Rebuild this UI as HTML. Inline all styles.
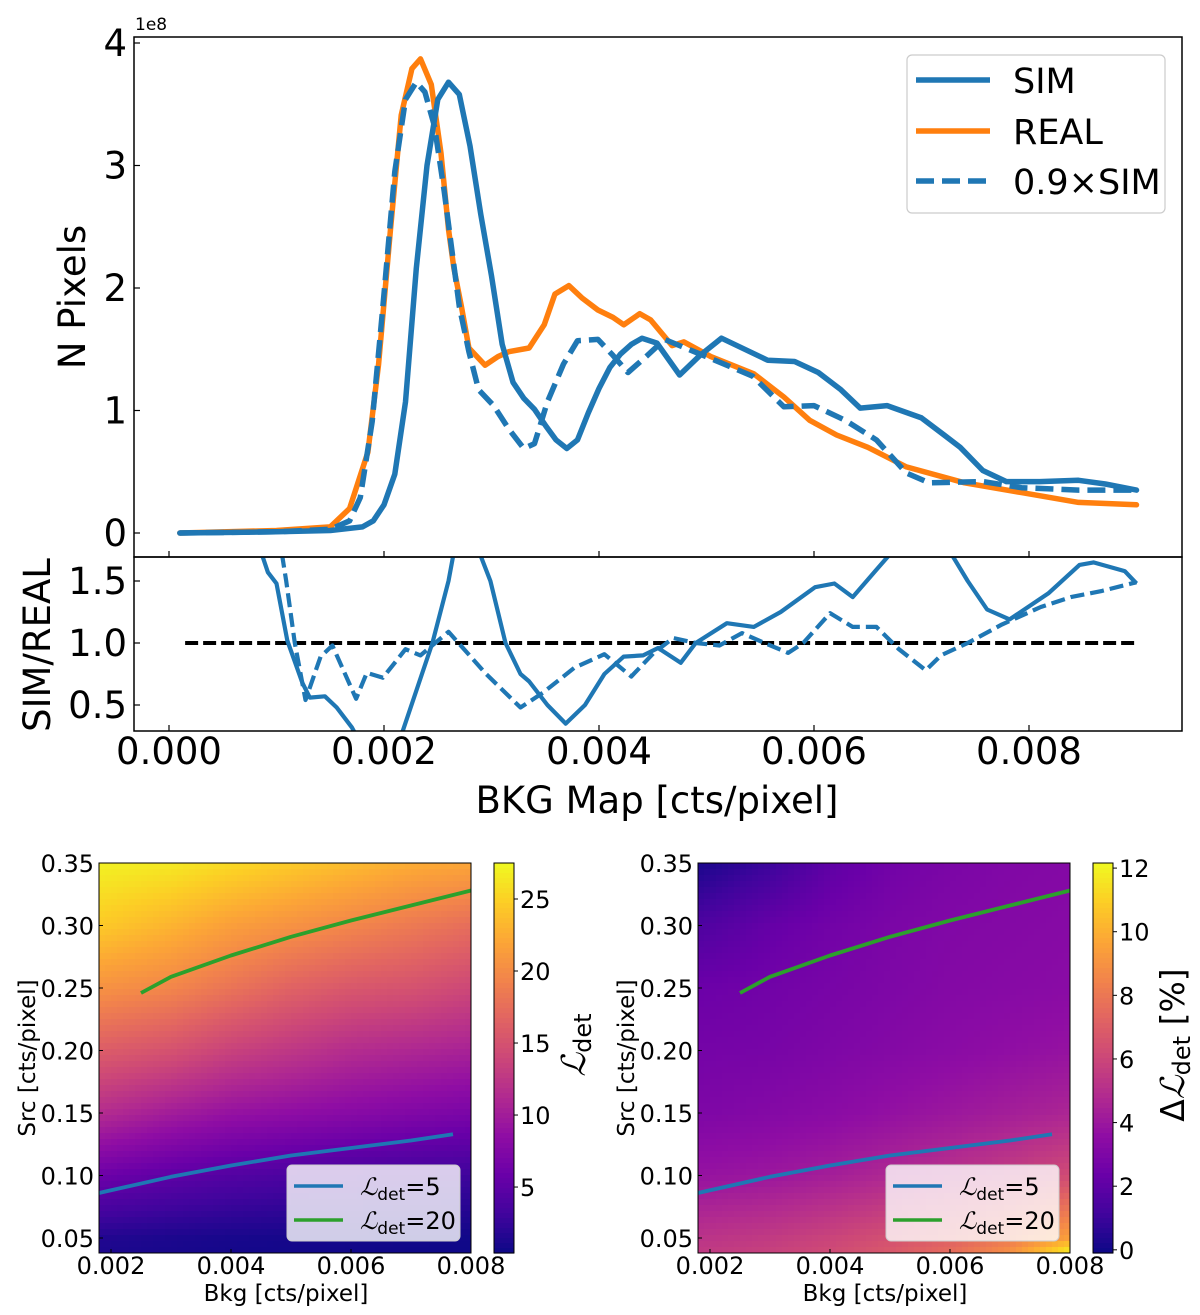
<!DOCTYPE html>
<html><head><meta charset="utf-8">
<style>
html,body{margin:0;padding:0;background:#fff;}
svg{display:block;font-family:"DejaVu Sans","Liberation Sans",sans-serif;}
</style></head>
<body>
<svg id="fig" width="1200" height="1315" viewBox="0 0 1200 1315" xmlns="http://www.w3.org/2000/svg">
<defs>
<clipPath id="clipTop"><rect x="134" y="37" width="1048" height="520"/></clipPath>
<clipPath id="clipRatio"><rect x="134" y="557" width="1048" height="174"/></clipPath>
<clipPath id="clipH1"><rect x="99" y="863" width="372" height="390"/></clipPath>
<clipPath id="clipH2"><rect x="698" y="863" width="372" height="390"/></clipPath>
</defs>
<g id="topPanel"></g>
<g id="ratioPanel"></g>
<g id="h1"></g>
<g id="h2"></g>
</svg>
<script>
// ---------- data: top histogram (values in 1e8) ----------
const simX=[0.0001,0.001,0.0015,0.0018,0.0019,0.002,0.0021,0.0022,0.0023,0.0024,0.0025,0.0026,0.0027,0.0028,0.0029,0.003,0.0031,0.0032,0.0033,0.0034,0.0035,0.0036,0.0037,0.0038,0.0039,0.004,0.0041,0.0042,0.0043,0.0044,0.00454,0.00475,0.00494,0.00514,0.00557,0.00582,0.00604,0.00625,0.00643,0.00668,0.007,0.00721,0.00736,0.00757,0.00779,0.0081,0.00846,0.00871,0.009];
const simY=[0,0.01,0.02,0.05,0.1,0.23,0.48,1.07,2.16,3.0,3.54,3.68,3.58,3.16,2.6,2.1,1.54,1.23,1.1,1.01,0.88,0.76,0.69,0.76,0.98,1.18,1.35,1.46,1.54,1.59,1.55,1.29,1.45,1.59,1.41,1.40,1.31,1.17,1.02,1.04,0.94,0.8,0.7,0.51,0.42,0.42,0.43,0.4,0.35];
const realX=[0.0001,0.001,0.0015,0.00168,0.00185,0.00195,0.00206,0.00216,0.00226,0.00234,0.00244,0.00253,0.0026,0.00265,0.00272,0.00279,0.00294,0.00306,0.00316,0.00335,0.00349,0.00359,0.00372,0.00384,0.00399,0.00413,0.00423,0.00438,0.00448,0.00468,0.00479,0.00504,0.00544,0.00572,0.00596,0.00621,0.0065,0.00686,0.0074,0.00793,0.00846,0.009];
const realY=[0,0.02,0.05,0.2,0.66,1.38,2.48,3.41,3.79,3.87,3.66,3.1,2.48,2.16,1.85,1.51,1.37,1.44,1.48,1.51,1.7,1.95,2.02,1.92,1.82,1.76,1.70,1.79,1.74,1.53,1.56,1.44,1.30,1.11,0.92,0.8,0.7,0.54,0.41,0.33,0.25,0.23];
const dashX=[0.0001,0.001,0.0015,0.00168,0.00178,0.00189,0.00199,0.0021,0.0022,0.0023,0.00238,0.00247,0.00256,0.00263,0.0027,0.00279,0.00288,0.00302,0.00316,0.0033,0.0034,0.00352,0.00367,0.0038,0.00399,0.00413,0.00427,0.00445,0.00461,0.00508,0.00543,0.00572,0.006,0.00629,0.00658,0.00686,0.00707,0.00757,0.00793,0.00846,0.009];
const dashY=[0,0.01,0.03,0.1,0.29,0.91,1.85,2.95,3.54,3.68,3.6,3.32,2.79,2.32,1.85,1.48,1.17,1.04,0.85,0.69,0.73,1.07,1.38,1.57,1.58,1.45,1.31,1.45,1.58,1.41,1.28,1.03,1.04,0.92,0.76,0.49,0.41,0.42,0.37,0.35,0.35];
// ---------- data: ratio panel ----------
const rSimX=[0.00085,0.00092,0.001,0.0011,0.00124,0.00131,0.00145,0.00156,0.0017,0.0019,0.00205,0.00217,0.00245,0.0026,0.00275,0.0029,0.00299,0.00313,0.00327,0.00335,0.00352,0.00369,0.00387,0.00405,0.00423,0.00441,0.00455,0.00476,0.0049,0.00519,0.00544,0.00569,0.00601,0.00619,0.00636,0.00658,0.00669,0.007,0.00729,0.00743,0.00761,0.00782,0.00818,0.00847,0.0086,0.00889,0.009];
const rSimY=[1.75,1.57,1.48,1.02,0.68,0.56,0.57,0.48,0.32,0.0,-0.1,0.28,1.0,1.5,2.2,1.7,1.5,1.0,0.75,0.69,0.5,0.35,0.5,0.75,0.89,0.9,0.96,0.84,1.0,1.16,1.13,1.25,1.45,1.48,1.37,1.59,1.7,2.0,1.7,1.5,1.27,1.19,1.4,1.63,1.65,1.58,1.48];
const rDashX=[0.00105,0.00109,0.00117,0.00127,0.00141,0.00152,0.00174,0.00184,0.00199,0.0022,0.00234,0.0026,0.00295,0.00327,0.00348,0.00377,0.00405,0.0043,0.00451,0.00469,0.0049,0.00512,0.00533,0.00554,0.00576,0.0059,0.00615,0.00636,0.00658,0.00679,0.00704,0.00718,0.00743,0.00775,0.00811,0.00839,0.00868,0.009];
const rDashY=[1.72,1.5,1.0,0.54,0.89,0.98,0.55,0.76,0.72,0.95,0.9,1.09,0.75,0.48,0.6,0.8,0.91,0.73,0.92,1.04,1.0,0.98,1.08,1.0,0.92,1.0,1.24,1.13,1.13,0.95,0.78,0.9,1.0,1.15,1.29,1.37,1.42,1.49];
const xTicks=[0,0.002,0.004,0.006,0.008];
const xTickLabels=["0.000","0.002","0.004","0.006","0.008"];
const yTicks=[0,1,2,3,4];
const rTicks=[0.5,1.0,1.5];
const rTickLabels=["0.5","1.0","1.5"];
// ---------- data: heatmaps ----------
const hB=[0.0018,0.003,0.004,0.005,0.006,0.007,0.008];
const hS=[0.35,0.30,0.25,0.20,0.15,0.10,0.05,0.038];
const lRow035=[27,26.5,25.5,24.5,23.5,22.5,22];
const lRow030=[24.5,23,21.5,20.5,19.5,18.5,17.5];
const lRow025=[20.5,19.5,18,16.5,15.5,15,14];
const lRow020=[16,15,13.5,12.5,11.5,11,10.5];
const lRow015=[11.5,10,9,8.5,8,7.5,7];
const lRow010=[6,5,4.3,3.8,3.5,3.2,3];
const lRow005=[1.5,1.2,1,0.9,0.8,0.7,0.6];
const lRow004=[1.2,1.0,0.8,0.7,0.6,0.5,0.5];
const dRow035=[0.2,1.0,2.0,2.6,2.9,3.1,3.2];
const dRow030=[1.5,2.2,2.6,2.9,3.1,3.2,3.3];
const dRow025=[2.4,2.6,2.8,3.0,3.2,3.3,3.4];
const dRow020=[2.7,2.8,3.0,3.2,3.4,3.6,3.8];
const dRow015=[3.0,3.2,3.4,3.7,4.0,4.3,4.6];
const dRow010=[3.8,4.0,4.3,4.7,5.1,5.6,6.2];
const dRow005=[5.2,5.5,5.9,6.4,7.1,8.0,9.5];
const dRow004=[5.5,5.8,6.2,6.8,7.6,9.0,12];
const greenB=[0.0025,0.003,0.004,0.005,0.006,0.007,0.008];
const greenS=[0.246,0.259,0.276,0.291,0.304,0.316,0.328];
const blueB=[0.0018,0.003,0.004,0.005,0.006,0.007,0.0077];
const blueS=[0.086,0.099,0.108,0.116,0.122,0.128,0.133];
const hxTicks=[0.002,0.004,0.006,0.008];
const hxTickLabels=["0.002","0.004","0.006","0.008"];
const hyTicks=[0.05,0.10,0.15,0.20,0.25,0.30,0.35];
const hyTickLabels=["0.05","0.10","0.15","0.20","0.25","0.30","0.35"];
const cb1Ticks=[5,10,15,20,25];
const cb2Ticks=[0,2,4,6,8,10,12];

const NS="http://www.w3.org/2000/svg";
function mk(parent,tag,attrs,text){const el=document.createElementNS(NS,tag);for(const k in attrs)el.setAttribute(k,attrs[k]);if(text!==undefined)el.textContent=text;parent.appendChild(el);return el;}
const X=v=>169+v/0.002*215;
const Y=v=>533-v*122.5;
const YR=v=>643-(v-1)*124;
const path=(xs,ys,fx,fy)=>xs.map((x,i)=>(i?'L':'M')+fx(x).toFixed(1)+' '+fy(ys[i]).toFixed(1)).join(' ');
const BLUE="#1f77b4",ORANGE="#ff7f0e",GREEN="#2ca02c";
let e;

// ---- top panel ----
const topG=document.getElementById('topPanel');
const tg=mk(topG,'g',{'clip-path':'url(#clipTop)'});
e=mk(tg,'path',{d:path(realX,realY,X,Y),fill:'none',stroke:ORANGE,'stroke-width':5.5,'stroke-linejoin':'round','stroke-linecap':'round'});


e=mk(tg,'path',{d:path(simX,simY,X,Y),fill:'none',stroke:BLUE,'stroke-width':5.5,'stroke-linejoin':'round','stroke-linecap':'round'});


e=mk(tg,'path',{d:path(dashX,dashY,X,Y),fill:'none',stroke:BLUE,'stroke-width':5.5,'stroke-linejoin':'round','stroke-dasharray':'18 8'});


e=mk(topG,'rect',{x:134,y:37,width:1048,height:520,fill:'none',stroke:'#000','stroke-width':1.5});


yTicks.forEach(t=>{
  mk(topG,'line',{x1:134,x2:140,y1:Y(t),y2:Y(t),stroke:'#000','stroke-width':1.2});
  e=mk(topG,'text',{x:127,y:Y(t)+13,'font-size':37,'text-anchor':'end'},String(t));
  
  
});
xTicks.forEach(t=>{mk(topG,'line',{x1:X(t),x2:X(t),y1:557,y2:551,stroke:'#000','stroke-width':1.2});});
e=mk(topG,'text',{x:135,y:30,'font-size':17},'1e8');


e=mk(topG,'text',{x:0,y:0,'font-size':37,'text-anchor':'middle',transform:'translate(85,297) rotate(-90)'},'N Pixels');


const lg=mk(topG,'g',{});


mk(lg,'rect',{x:907,y:55,width:258,height:158,rx:5,fill:'#fff',stroke:'#ccc','stroke-width':1.2});
[['SIM',BLUE,null,80],['REAL',ORANGE,null,131],['0.9×SIM',BLUE,'18 8',181]].forEach(([lab,col,da,y])=>{
  const g=mk(lg,'g',{});
  
  
  const a={x1:916,x2:990,y1:y,y2:y,stroke:col,'stroke-width':5.5};if(da)a['stroke-dasharray']=da;
  mk(g,'line',a);
  mk(g,'text',{x:1013,y:y+13,'font-size':35},lab);
});

// ---- ratio panel ----
const rp=document.getElementById('ratioPanel');
const rg=mk(rp,'g',{'clip-path':'url(#clipRatio)'});
e=mk(rg,'line',{x1:X(0.00015),x2:X(0.009),y1:YR(1),y2:YR(1),stroke:'#000','stroke-width':4,'stroke-dasharray':'13 5'});


e=mk(rg,'path',{d:path(rSimX,rSimY,X,YR),fill:'none',stroke:BLUE,'stroke-width':4.2,'stroke-linejoin':'round'});


e=mk(rg,'path',{d:path(rDashX,rDashY,X,YR),fill:'none',stroke:BLUE,'stroke-width':4.2,'stroke-linejoin':'round','stroke-dasharray':'14 6'});


e=mk(rp,'rect',{x:134,y:557,width:1048,height:174,fill:'none',stroke:'#000','stroke-width':1.5});


rTicks.forEach((t,i)=>{
  mk(rp,'line',{x1:134,x2:140,y1:YR(t),y2:YR(t),stroke:'#000','stroke-width':1.2});
  e=mk(rp,'text',{x:127,y:YR(t)+13,'font-size':37,'text-anchor':'end'},rTickLabels[i]);
  
  
});
xTicks.forEach((t,i)=>{
  mk(rp,'line',{x1:X(t),x2:X(t),y1:731,y2:725,stroke:'#000','stroke-width':1.2});
  e=mk(rp,'text',{x:X(t),y:764,'font-size':37,'text-anchor':'middle'},xTickLabels[i]);
  
  
});
e=mk(rp,'text',{x:0,y:0,'font-size':37,'text-anchor':'middle',transform:'translate(50,645) rotate(-90)'},'SIM/REAL');


e=mk(rp,'text',{x:657,y:813,'font-size':37,'text-anchor':'middle'},'BKG Map [cts/pixel]');



// ---- plasma colormap ----
const PL=["#0d0887","#41049d","#6a00a8","#8f0da4","#b12a90","#cc4778","#e16462","#f2844b","#fca636","#fcce25","#f0f921"].map(h=>[parseInt(h.substr(1,2),16),parseInt(h.substr(3,2),16),parseInt(h.substr(5,2),16)]);
function plasma(t){t=Math.max(0,Math.min(1,t));const f=t*10,i=Math.min(9,Math.floor(f)),r=f-i;const a=PL[i],b=PL[i+1];return 'rgb('+[0,1,2].map(k=>Math.round(a[k]+(b[k]-a[k])*r)).join(',')+')';}

function heatPanel(gid,dx,rows,vmin,vmax,cbTicks,isDelta,clip){
  const G=document.getElementById(gid);
  const HX=b=>dx+99+(b-0.0018)/0.0062*372;
  const HY=s=>863+(0.35-s)*1250;
  const CY=v=>1253-(v-vmin)/(vmax-vmin)*390;
  function val(b,s){
    let i=0;while(i<hB.length-2&&b>hB[i+1])i++;
    let j=0;while(j<hS.length-2&&s<hS[j+1])j++;
    const u=Math.max(0,Math.min(1,(b-hB[i])/(hB[i+1]-hB[i])));
    const w=Math.max(0,Math.min(1,(hS[j]-s)/(hS[j]-hS[j+1])));
    const a=rows[j][i]*(1-u)+rows[j][i+1]*u, c=rows[j+1][i]*(1-u)+rows[j+1][i+1]*u;
    return a*(1-w)+c*w;
  }
  const hm=mk(G,'g',{'clip-path':'url(#'+clip+')'});
  
  
  const step=6;
  for(let py=863;py<1253;py+=step){for(let px=dx+99;px<dx+471;px+=step){
    const b=0.0018+(px+step/2-dx-99)/372*0.0062, s=0.35-(py+step/2-863)/1250;
    mk(hm,'rect',{x:px,y:py,width:step+0.6,height:step+0.6,fill:plasma((val(b,s)-vmin)/(vmax-vmin))});
  }}
  e=mk(hm,'path',{d:path(greenB,greenS,HX,HY),fill:'none',stroke:GREEN,'stroke-width':3.8,'stroke-linejoin':'round'});
  
  
  e=mk(hm,'path',{d:path(blueB,blueS,HX,HY),fill:'none',stroke:BLUE,'stroke-width':3.8,'stroke-linejoin':'round'});
  
  
  mk(G,'rect',{x:dx+99,y:863,width:372,height:390,fill:'none',stroke:'#000','stroke-width':1});
  hyTicks.forEach((t,i)=>{
    mk(G,'line',{x1:dx+99,x2:dx+103,y1:HY(t),y2:HY(t),stroke:'#000'});
    e=mk(G,'text',{x:dx+94,y:HY(t)+9,'font-size':24,'text-anchor':'end'},hyTickLabels[i]);
    
    
  });
  hxTicks.forEach((t,i)=>{
    mk(G,'line',{x1:HX(t),x2:HX(t),y1:1253,y2:1249,stroke:'#000'});
    e=mk(G,'text',{x:HX(t),y:1274,'font-size':24,'text-anchor':'middle'},hxTickLabels[i]);
    
    
  });
  e=mk(G,'text',{x:dx+286,y:1301,'font-size':23,'text-anchor':'middle'},'Bkg [cts/pixel]');
  
  
  e=mk(G,'text',{x:0,y:0,'font-size':23,'text-anchor':'middle',transform:'translate('+(dx+35)+',1058) rotate(-90)'},'Src [cts/pixel]');
  
  
  const L=mk(G,'g',{});
  
  
  mk(L,'rect',{x:dx+287,y:1165,width:173,height:76,rx:5,fill:'rgba(255,255,255,0.8)',stroke:'#ccc'});
  [[BLUE,'5',1186],[GREEN,'20',1220]].forEach(([c,v,y])=>{
    const g=mk(L,'g',{});
    
    
    mk(g,'line',{x1:dx+294,x2:dx+343,y1:y,y2:y,stroke:c,'stroke-width':3.5});
    const t=mk(g,'text',{x:dx+360,y:y+9,'font-size':24});
    mk(t,'tspan',{'font-style':'italic','font-family':'DejaVu Serif, serif'},'ℒ');
    mk(t,'tspan',{'font-size':17,dy:5},'det');
    mk(t,'tspan',{dy:-5},'='+v);
  });
  const cb=mk(G,'g',{});
  
  
  const N=78;for(let k=0;k<N;k++){const y0=863+k*390/N;mk(cb,'rect',{x:dx+494,y:y0,width:20,height:390/N+0.6,fill:plasma(1-(k+0.5)/N)});}
  mk(cb,'rect',{x:dx+494,y:863,width:20,height:390,fill:'none',stroke:'#000'});
  cbTicks.forEach(t=>{
    mk(cb,'line',{x1:dx+514,x2:dx+518,y1:CY(t),y2:CY(t),stroke:'#000'});
    e=mk(cb,'text',{x:dx+520,y:CY(t)+9,'font-size':24},String(t));
    
    
  });
  const lab=mk(G,'text',{x:0,y:0,'font-size':33,'text-anchor':'middle',transform:'translate('+(dx+585)+',1045) rotate(-90)'});
  
  
  if(isDelta)mk(lab,'tspan',{},'Δ');
  mk(lab,'tspan',{'font-style':'italic','font-family':'DejaVu Serif, serif'},'ℒ');
  mk(lab,'tspan',{'font-size':24,dy:6},'det');
  if(isDelta)mk(lab,'tspan',{dy:-6},' [%]');
}
heatPanel('h1',0,[lRow035,lRow030,lRow025,lRow020,lRow015,lRow010,lRow005,lRow004],0.42,27.5,cb1Ticks,false,'clipH1');
heatPanel('h2',599,[dRow035,dRow030,dRow025,dRow020,dRow015,dRow010,dRow005,dRow004],-0.1,12.16,cb2Ticks,true,'clipH2');
</script>
</body></html>
